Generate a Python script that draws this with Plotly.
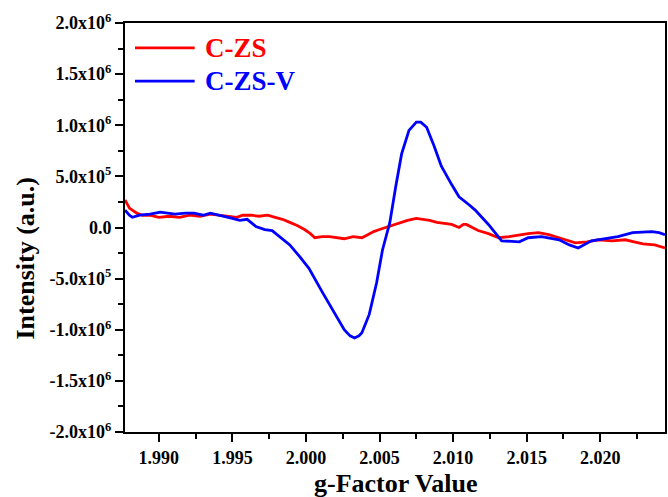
import plotly.graph_objects as go

# ---- data ----
g_red = [1.9877, 1.9880, 1.9885, 1.9889, 1.9894, 1.9900, 1.9907, 1.9914, 1.9921, 1.9928,
         1.9935, 1.9941, 1.9948, 1.9953, 1.9957, 1.9963, 1.9968, 1.9974, 1.9979, 1.9984,
         1.9989, 1.9994, 1.9999, 2.0003, 2.0006, 2.0011, 2.0016, 2.0021, 2.0026, 2.0032,
         2.0038, 2.0042, 2.0046, 2.0050, 2.0054, 2.0059, 2.0063, 2.0069, 2.0075, 2.0080,
         2.0084, 2.0089, 2.0094, 2.0099, 2.0104, 2.0107, 2.0109, 2.0113, 2.0117, 2.0124,
         2.0131, 2.0138, 2.0145, 2.0151, 2.0158, 2.0165, 2.0172, 2.0178, 2.0183, 2.0191,
         2.0199, 2.0208, 2.0217, 2.0223, 2.0229, 2.0237, 2.0244]
i_red = [0.27, 0.19, 0.14, 0.12, 0.12, 0.10, 0.11, 0.10, 0.12, 0.11,
         0.13, 0.12, 0.11, 0.10, 0.12, 0.12, 0.11, 0.12, 0.10, 0.08,
         0.05, 0.02, -0.02, -0.06, -0.10, -0.09, -0.09, -0.10, -0.11, -0.09,
         -0.10, -0.07, -0.04, -0.02, 0.00, 0.02, 0.04, 0.07, 0.09, 0.08,
         0.07, 0.05, 0.04, 0.03, 0.00, 0.03, 0.03, 0.00, -0.03, -0.06,
         -0.10, -0.09, -0.07, -0.06, -0.05, -0.07, -0.10, -0.13, -0.15, -0.14,
         -0.12, -0.13, -0.12, -0.14, -0.16, -0.17, -0.20]

g_blue = [1.9877, 1.9880, 1.9882, 1.9887, 1.9894, 1.9901, 1.9911, 1.9918, 1.9924, 1.9930,
          1.9935, 1.9945, 1.9950, 1.9955, 1.9960, 1.9966, 1.9972, 1.9977, 1.9983, 1.9989,
          1.9996, 2.0002, 2.0011, 2.0021, 2.0026, 2.0030, 2.0033, 2.0036, 2.0038, 2.0043,
          2.0048, 2.0052, 2.0057, 2.0061, 2.0065, 2.0070, 2.0075, 2.0078, 2.0082, 2.0087,
          2.0092, 2.0099, 2.0104, 2.0111, 2.0115, 2.0124, 2.0133, 2.0145, 2.0151, 2.0160,
          2.0172, 2.0179, 2.0185, 2.0194, 2.0206, 2.0212, 2.0222, 2.0230, 2.0235, 2.0240, 2.0244]
i_blue = [0.17, 0.12, 0.10, 0.12, 0.13, 0.15, 0.13, 0.14, 0.14, 0.12,
          0.14, 0.11, 0.09, 0.07, 0.08, 0.01, -0.02, -0.03, -0.10, -0.17,
          -0.29, -0.40, -0.63, -0.88, -1.00, -1.06, -1.08, -1.06, -1.03, -0.85,
          -0.54, -0.22, 0.05, 0.40, 0.72, 0.95, 1.03, 1.03, 0.98, 0.80,
          0.60, 0.42, 0.30, 0.22, 0.17, 0.03, -0.13, -0.14, -0.10, -0.09,
          -0.12, -0.17, -0.20, -0.13, -0.10, -0.09, -0.05, -0.04, -0.04, -0.05, -0.07]

series_names = ["C-ZS", "C-ZS-V"]
series_colors = ["#ff0000", "#0000ff"]

y_tickvals = [-2.0e6, -1.5e6, -1.0e6, -0.5e6, 0, 0.5e6, 1.0e6, 1.5e6, 2.0e6]
y_ticktext = ["-2.0x10<sup>6</sup>", "-1.5x10<sup>6</sup>", "-1.0x10<sup>6</sup>",
              "-5.0x10<sup>5</sup>", "0.0", "5.0x10<sup>5</sup>", "1.0x10<sup>6</sup>",
              "1.5x10<sup>6</sup>", "2.0x10<sup>6</sup>"]

x_title = "g-Factor Value"
y_title = "Intensity (a.u.)"

FONT = "Liberation Serif"

fig = go.Figure()
for g, i, name, col in [(g_red, i_red, series_names[0], series_colors[0]),
                        (g_blue, i_blue, series_names[1], series_colors[1])]:
    fig.add_trace(go.Scatter(x=g, y=[v * 1e6 for v in i], mode="lines", name=name,
                             showlegend=False, line=dict(color=col, width=2.8)))

axis_common = dict(showline=True, linecolor="black", linewidth=2, mirror=True,
                   ticks="outside", ticklen=8, tickwidth=2, tickcolor="black",
                   showgrid=False, zeroline=False,
                   tickfont=dict(family=FONT, size=18, color="black", weight="bold"))

fig.update_xaxes(range=[1.9877, 2.0244], dtick=0.005, tick0=1.990, tickformat=".3f",
                 minor=dict(ticks="outside", ticklen=5, tickwidth=2, tickcolor="black", dtick=0.0025),
                 **axis_common)
fig.update_yaxes(range=[-2.0e6, 2.0e6], tickvals=y_tickvals, ticktext=y_ticktext,
                 minor=dict(ticks="outside", ticklen=5, tickwidth=2, tickcolor="black", dtick=250000, tick0=0),
                 **axis_common)

# axis titles
fig.add_annotation(text=x_title, xref="paper", yref="paper", x=0.5, y=-0.125,
                   xanchor="center", yanchor="middle", showarrow=False,
                   font=dict(family=FONT, size=26, color="black", weight="bold"))
fig.add_annotation(text=y_title, xref="paper", yref="paper", x=-0.1845, y=0.425,
                   xanchor="center", yanchor="middle", textangle=-90, showarrow=False,
                   font=dict(family=FONT, size=26, color="black", weight="bold"))

# manual legend (long line samples as in the reference)
leg_y = [0.939, 0.858]
for k in range(2):
    fig.add_shape(type="line", xref="paper", yref="paper",
                  x0=0.0185, x1=0.129, y0=leg_y[k], y1=leg_y[k],
                  line=dict(color=series_colors[k], width=2.8))
    fig.add_annotation(text=series_names[k], xref="paper", yref="paper",
                       x=0.1445, y=leg_y[k], xanchor="left", yanchor="middle",
                       showarrow=False,
                       font=dict(family=FONT, size=27, color=series_colors[k], weight="bold"))

fig.update_layout(
    width=668, height=497,
    margin=dict(l=125, r=1, t=23, b=65),
    paper_bgcolor="white", plot_bgcolor="white",
    showlegend=False,
)

fig.write_html("out.html")
